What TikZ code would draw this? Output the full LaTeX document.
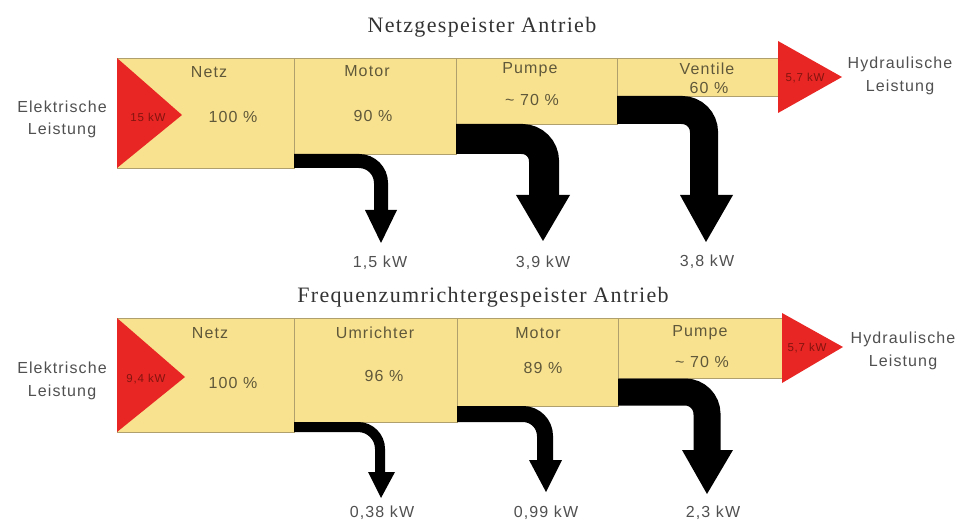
\documentclass[tikz,border=0pt]{standalone}
\usepackage{fontspec}
\setmainfont{Liberation Sans}
\newfontfamily\lblfont[LetterSpace=7]{Liberation Sans}
\newfontfamily\ttlfont[LetterSpace=6]{Liberation Serif}
\definecolor{boxfill}{RGB}{249,226,143}
\definecolor{boxline}{RGB}{176,160,110}
\definecolor{flowred}{RGB}{232,38,36}
\definecolor{txtin}{RGB}{95,88,58}
\definecolor{txtout}{RGB}{80,80,80}
\definecolor{txtred}{RGB}{130,20,15}
\begin{document}
\begin{tikzpicture}[x=1pt,y=-1pt,
  stage/.style={fill=boxfill,draw=boxline,line width=0.8pt},
  srcflow/.style={fill=flowred,draw=none},
  loss/.style={draw=black,line width=#1,rounded corners=22pt},
  losshead/.style={fill=black,draw=none},
  lbl/.style={font=\lblfont\fontsize{16}{18}\selectfont,text=txtin,inner sep=0pt},
  sidelbl/.style={font=\lblfont\fontsize{16}{22.5}\selectfont,text=txtout,align=center,inner sep=0pt},
  kwlbl/.style={font=\lblfont\fontsize{16}{18}\selectfont,text=txtout,inner sep=0pt},
  tri/.style={font=\lblfont\fontsize{11.5}{12}\selectfont,text=txtred,inner sep=0pt},
  ttl/.style={font=\ttlfont\fontsize{22}{24}\selectfont,text=black!80,inner sep=0pt}]
\useasboundingbox (0,0) rectangle (961,521);

% ================= Top: Netzgespeister Antrieb =================
\node[ttl] (t1) at (482,27) {Netzgespeister Antrieb};

\path[stage] (117,58) rectangle (294,168);
\path[stage] (294,58) rectangle (456,154);
\path[stage] (456,58) rectangle (617,124);
\path[stage] (617,58) rectangle (778,96);

\fill[srcflow] (117,58) -- (182,115) -- (117,168) -- cycle;
\fill[srcflow] (778,41) -- (842,77) -- (778,113) -- cycle;

% losses
\coordinate (a1s) at (294,161); \coordinate (a1c) at (381,161); \coordinate (a1e) at (381,211);
\draw[loss=14pt] (a1s) -- (a1c) -- (a1e);
\fill[losshead] (365,210) -- (397,210) -- (381,243) -- cycle;

\coordinate (a2s) at (456,139); \coordinate (a2c) at (544,139); \coordinate (a2e) at (544,196);
\draw[loss=30pt] (a2s) -- (a2c) -- (a2e);
\fill[losshead] (516,195) -- (570,195) -- (543,241) -- cycle;

\coordinate (a3s) at (617,110); \coordinate (a3c) at (704,110); \coordinate (a3e) at (704,196);
\draw[loss=28pt] (a3s) -- (a3c) -- (a3e);
\fill[losshead] (680,195) -- (733,195) -- (706,242) -- cycle;

% texts
\node[sidelbl] (el1) at (62,119.5) {Elektrische\\Leistung};
\node[tri] (in1) at (148,117) {15 kW};
\node[lbl] (n1) at (209,72) {Netz};
\node[lbl] (n1p) at (233,117) {100 \%};
\node[lbl] (m1) at (367,71) {Motor};
\node[lbl] (m1p) at (373,116) {90 \%};
\node[lbl] (p1) at (530,70) {Pumpe};
\node[lbl] (p1p) at (532,100) {\textasciitilde\ 70 \%};
\node[lbl] (v1) at (707,69) {Ventile};
\node[lbl] (v1p) at (709,88) {60 \%};
\node[tri] (out1) at (805,78) {5,7 kW};
\node[sidelbl] (hy1) at (900,76) {Hydraulische\\Leistung};
\node[kwlbl] (k11) at (380,263) {1,5 kW};
\node[kwlbl] (k12) at (543,263) {3,9 kW};
\node[kwlbl] (k13) at (707,262) {3,8 kW};

% ================= Bottom: Frequenzumrichtergespeister Antrieb =================
\node[ttl] (t2) at (483,297) {Frequenzumrichtergespeister Antrieb};

\path[stage] (117,318) rectangle (294,432);
\path[stage] (294,318) rectangle (457,422);
\path[stage] (457,318) rectangle (618,406);
\path[stage] (618,318) rectangle (782,378);

\fill[srcflow] (117,318) -- (185,377) -- (117,432) -- cycle;
\fill[srcflow] (782,313) -- (843,347) -- (782,383) -- cycle;

\coordinate (b1s) at (294,427); \coordinate (b1c) at (380,427); \coordinate (b1e) at (380,473);
\draw[loss=10pt] (b1s) -- (b1c) -- (b1e);
\fill[losshead] (368,472) -- (395,472) -- (381,498) -- cycle;

\coordinate (b2s) at (457,414); \coordinate (b2c) at (545,414); \coordinate (b2e) at (545,461);
\draw[loss=16pt] (b2s) -- (b2c) -- (b2e);
\fill[losshead] (529,460) -- (562,460) -- (546,492) -- cycle;

\coordinate (b3s) at (618,392); \coordinate (b3c) at (707,392); \coordinate (b3e) at (707,451);
\draw[loss=27pt] (b3s) -- (b3c) -- (b3e);
\fill[losshead] (682,450) -- (733,450) -- (707,494) -- cycle;

\node[sidelbl] (el2) at (62,381) {Elektrische\\Leistung};
\node[tri] (in2) at (146,379) {9,4 kW};
\node[lbl] (n2) at (210,333) {Netz};
\node[lbl] (n2p) at (233,383) {100 \%};
\node[lbl] (u2) at (375,333) {Umrichter};
\node[lbl] (u2p) at (384,376) {96 \%};
\node[lbl] (m2) at (538,333) {Motor};
\node[lbl] (m2p) at (543,368) {89 \%};
\node[lbl] (p2) at (700,333) {Pumpe};
\node[lbl] (p2p) at (702,362) {\textasciitilde\ 70 \%};
\node[tri] (out2) at (807,348) {5,7 kW};
\node[sidelbl] (hy2) at (903,351) {Hydraulische\\Leistung};
\node[kwlbl] (k21) at (382,513) {0,38 kW};
\node[kwlbl] (k22) at (546,513) {0,99 kW};
\node[kwlbl] (k23) at (713,513) {2,3 kW};
\end{tikzpicture}
\end{document}
